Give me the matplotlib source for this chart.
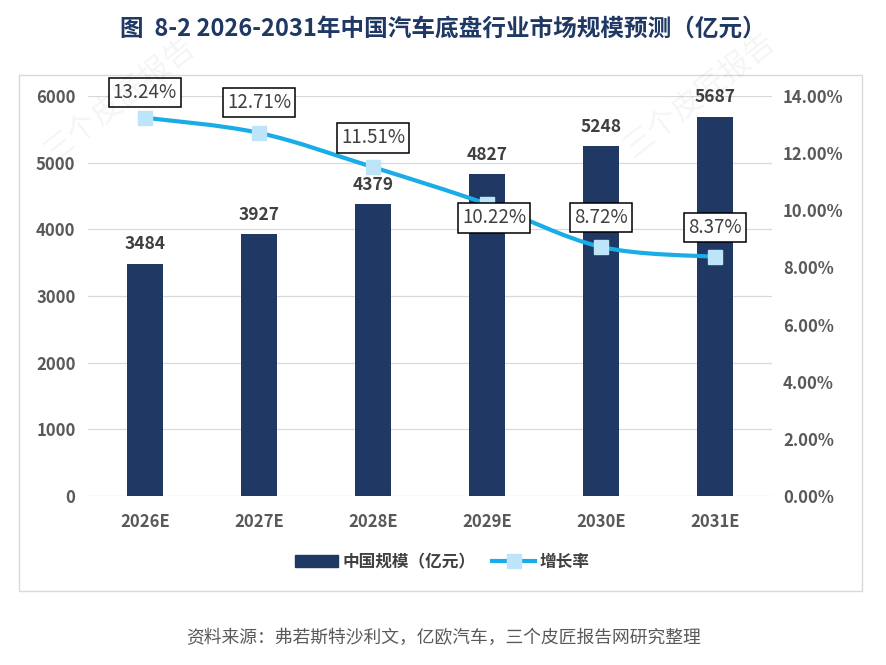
import matplotlib
matplotlib.use('Agg')
import matplotlib.pyplot as plt
from matplotlib.path import Path
from matplotlib.patches import PathPatch, Rectangle, Patch
from matplotlib.lines import Line2D
import numpy as np

plt.rcParams['font.family'] = ['Noto Sans CJK SC', 'DejaVu Sans']

years = ['2026E', '2027E', '2028E', '2029E', '2030E', '2031E']
scale = [3484, 3927, 4379, 4827, 5248, 5687]
growth = [13.24, 12.71, 11.51, 10.22, 8.72, 8.37]
growth_labels = ['13.24%', '12.71%', '11.51%', '10.22%', '8.72%', '8.37%']
left_ticks = [0, 1000, 2000, 3000, 4000, 5000, 6000]
right_ticks = [0, 2, 4, 6, 8, 10, 12, 14]

title = '图  8-2 2026-2031年中国汽车底盘行业市场规模预测（亿元）'
source = '资料来源：弗若斯特沙利文，亿欧汽车，三个皮匠报告网研究整理'

BAR = '#203864'
LINE = '#1AACE6'
MARK = '#BDE4F8'
TICK = '#595959'
LAB = '#404040'

W, H = 886, 665
fig = plt.figure(figsize=(W / 100, H / 100), dpi=100)

# outer frame
fig.patches.append(Rectangle((19 / W, 1 - 591 / H), (862 - 19) / W, (591 - 75) / H,
                             transform=fig.transFigure, fill=False,
                             edgecolor='#d9d9d9', lw=1.0, zorder=0))

# watermarks
for (wx, wy) in [(120, 100), (700, 95)]:
    fig.text(wx / W, 1 - wy / H, '三个皮匠报告', rotation=38, fontsize=22,
             color='#000000', alpha=0.045, ha='center', va='center')

ax = fig.add_axes([88 / W, 1 - 496 / H, (772 - 88) / W, 400 / H])
x = np.arange(len(years))
ax.bar(x, scale, width=0.31, color=BAR, zorder=2)
ax.set_xlim(-0.5, len(years) - 0.5)
ax.set_ylim(0, 6000)
ax.set_yticks(left_ticks)
ax.set_yticklabels([str(t) for t in left_ticks])
ax.set_xticks(x)
ax.set_xticklabels(years)
ax.yaxis.grid(True, color='#d9d9d9', lw=0.9)
ax.set_axisbelow(True)
for s in ax.spines.values():
    s.set_visible(False)
ax.tick_params(axis='y', length=0, pad=9, labelsize=12, labelcolor=TICK)
ax.tick_params(axis='x', length=0, pad=12, labelsize=12, labelcolor=TICK)
for lab in ax.get_xticklabels() + ax.get_yticklabels():
    lab.set_fontweight('bold')

for xi, v in zip(x, scale):
    ax.annotate(str(v), (xi, v), xytext=(0, 14), textcoords='offset points',
                ha='center', va='center', fontsize=12.5, fontweight='bold',
                color=LAB, zorder=5)

ax2 = ax.twinx()
ax2.set_ylim(0, 14)
ax2.set_yticks(right_ticks)
ax2.set_yticklabels(['%.2f%%' % t for t in right_ticks])
for s in ax2.spines.values():
    s.set_visible(False)
ax2.tick_params(axis='y', length=0, pad=8, labelsize=12, labelcolor=TICK)
for lab in ax2.get_yticklabels():
    lab.set_fontweight('bold')

# smoothed line (Bezier through data points)
pts = np.column_stack([x, growth]).astype(float)
n = len(pts)
verts = [tuple(pts[0])]
codes = [Path.MOVETO]
for i in range(n - 1):
    p0 = pts[i - 1] if i > 0 else pts[i]
    p1 = pts[i]
    p2 = pts[i + 1]
    p3 = pts[i + 2] if i + 2 < n else pts[i + 1]
    c1 = p1 + (p2 - p0) / 6
    c2 = p2 - (p3 - p1) / 6
    verts += [tuple(c1), tuple(c2), tuple(p2)]
    codes += [Path.CURVE4] * 3
ax2.add_patch(PathPatch(Path(verts, codes), fill=False, edgecolor=LINE,
                        lw=3, zorder=3, capstyle='round'))
ax2.plot(x, growth, 's', ms=10.5, mfc=MARK, mec=MARK, zorder=4)

offsets = [(0, 18), (0, 22), (0, 21), (5, -10), (0, 21), (0, 21)]
for xi, v, lab, off in zip(x, growth, growth_labels, offsets):
    ax2.annotate(lab, (xi, v), xytext=off, textcoords='offset points',
                 ha='center', va='center', fontsize=13.5, color=LAB, zorder=6,
                 bbox=dict(boxstyle='square,pad=0.22', fc='white', ec='black', lw=1.1))

fig.text(0.5, 1 - 29 / H, title, ha='center', va='center', fontsize=17,
         fontweight='bold', color='#1F3864')

handles = [Patch(facecolor=BAR, edgecolor=BAR),
           Line2D([0], [0], color=LINE, lw=3, marker='s', ms=10, mfc=MARK, mec=MARK)]
leg = fig.legend(handles, ['中国规模（亿元）', '增长率'], loc='center',
                 bbox_to_anchor=(442 / W, 1 - 562 / H), ncol=2, frameon=False,
                 prop={'size': 12, 'weight': 'bold'}, handlelength=2.6,
                 columnspacing=1.0, handletextpad=0.25)
for t in leg.get_texts():
    t.set_color(LAB)

fig.text(0.5, 1 - 638 / H, source, ha='center', va='center', fontsize=12.8,
         color=TICK)

fig.savefig('out.png', dpi=100)
